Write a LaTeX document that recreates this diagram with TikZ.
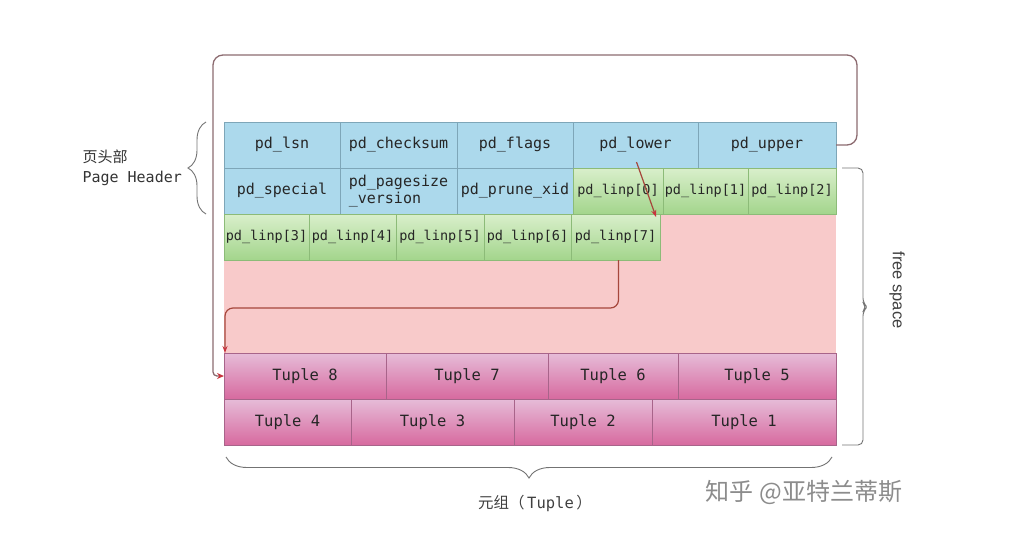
\documentclass[tikz,border=0pt]{standalone}
\usepackage{fontspec}
\setmonofont{DejaVu Sans Mono}
\setsansfont{Liberation Sans}
\newfontfamily\cjk{Noto Sans CJK SC}
\usepackage{tikz}
\usetikzlibrary{positioning,arrows.meta,decorations.pathreplacing,calc}
\definecolor{hdrblue}{HTML}{ACD9EC}
\definecolor{hdrline}{HTML}{7EA6B8}
\definecolor{linptop}{HTML}{D9EFCB}
\definecolor{linpbot}{HTML}{A3D58C}
\definecolor{linpline}{HTML}{8CBB78}
\definecolor{tuptop}{HTML}{E6BCD8}
\definecolor{tupbot}{HTML}{D76A9F}
\definecolor{tupline}{HTML}{A8648A}
\definecolor{freepink}{HTML}{F8CACA}
\definecolor{bracketc}{HTML}{8C6B70}
\definecolor{arrowred}{HTML}{C8343E}
\definecolor{ptrred}{HTML}{A6473C}
\tikzset{
  basic/.style   = {draw, rectangle, outer sep=0pt, inner xsep=1pt, inner ysep=0pt,
                    minimum height=46pt, text=black!85,
                    font=\ttfamily\fontsize{15}{17}\selectfont},
  hdr/.style     = {basic, fill=hdrblue, draw=hdrline},
  linp/.style    = {basic, draw=linpline, top color=linptop, bottom color=linpbot,
                    font=\ttfamily\fontsize{13.5}{16}\selectfont},
  tuple/.style   = {basic, draw=tupline, top color=tuptop, bottom color=tupbot,
                    font=\ttfamily\fontsize{15.5}{17}\selectfont},
  freebox/.style = {rectangle, fill=freepink, outer sep=0pt, inner sep=0pt},
  hbrace/.style  = {decorate, draw=black!55, line width=0.9pt},
  bracket/.style = {draw=bracketc, line width=1.3pt,
                    -{Stealth[length=7pt, width=6pt, color=arrowred]}},
  ptr/.style     = {draw=ptrred, line width=1.2pt,
                    -{Stealth[length=7pt, width=5pt, color=arrowred]}},
  hdrlabel/.style = {align=left, text=black!80, font=\ttfamily\fontsize{15}{20}\selectfont},
  fslabel/.style  = {text=black!75, font=\sffamily\fontsize{16.5}{18}\selectfont},
  tuplabel/.style = {text=black!75, font=\cjk\fontsize{15.5}{18}\selectfont},
  zhihu/.style    = {text=black!45, font=\cjk\fontsize{24}{26}\selectfont}
}

\begin{document}
\begin{tikzpicture}[x=1pt, y=-1pt]
\useasboundingbox (0,0) rectangle (1009,538);

% free space behind the line pointers
\node[freebox, anchor=north west, minimum width=612pt, minimum height=139pt] (free) at (224,214) {};

% page header, first row
\node[hdr, anchor=west, minimum width=116pt] (lsn) at (224,145) {pd\_lsn};
\node[hdr, right=0pt of lsn, minimum width=117pt] (checksum) {pd\_checksum};
\node[hdr, right=0pt of checksum, minimum width=116pt] (flags) {pd\_flags};
\node[hdr, right=0pt of flags, minimum width=125pt] (lower) {pd\_lower};
\node[hdr, right=0pt of lower, minimum width=138pt] (upper) {pd\_upper};

% page header, second row, then the first line pointers
\node[hdr, anchor=north west, minimum width=116pt] (special) at (lsn.south west) {pd\_special};
\node[hdr, right=0pt of special, minimum width=117pt, align=left] (version) {pd\_pagesize\\\_version};
\node[hdr, right=0pt of version, minimum width=116pt] (prune) {pd\_prune\_xid};
\node[linp, right=0pt of prune, minimum width=90pt] (l0) {pd\_linp[0]};
\node[linp, right=0pt of l0, minimum width=85pt] (l1) {pd\_linp[1]};
\node[linp, right=0pt of l1, minimum width=88pt] (l2) {pd\_linp[2]};

% third row of line pointers
\node[linp, anchor=north west, minimum width=85pt] (l3) at (special.south west) {pd\_linp[3]};
\foreach \i/\w in {4/87,5/88,6/87,7/89} {
  \pgfmathtruncatemacro\prev{\i-1}
  \node[linp, right=0pt of l\prev, minimum width=\w pt] (l\i) {pd\_linp[\i]};
}

% tuples, filled from the end of the page
\node[tuple, anchor=north west, minimum width=162pt] (t8) at (free.south west) {Tuple 8};
\foreach \i/\w in {7/162,6/130,5/158} {
  \pgfmathtruncatemacro\prev{\i+1}
  \node[tuple, right=0pt of t\prev, minimum width=\w pt] (t\i) {Tuple \i};
}
\node[tuple, anchor=north west, minimum width=127pt] (t4) at (t8.south west) {Tuple 4};
\foreach \i/\w in {3/163,2/138,1/184} {
  \pgfmathtruncatemacro\prev{\i+1}
  \node[tuple, right=0pt of t\prev, minimum width=\w pt] (t\i) {Tuple \i};
}

% pointers
\coordinate (topR) at (857,55);
\coordinate (topL) at (213,55);
\draw[bracket, rounded corners=10pt] (upper.east) -| (topR) -- (topL) [rounded corners=4pt] |- (t8.west);
\draw[ptr] ([xshift=1pt,yshift=6pt]lower.south) -- ([xshift=-4pt,yshift=-3pt]l7.north east);
\coordinate (turn) at (420,308);
\draw[ptr, rounded corners=8pt] ([xshift=3pt]l7.south) |- (turn) -| ([xshift=1pt]t8.north west);

% braces and their labels
\draw[hbrace, decoration={brace, amplitude=18pt}]
  ([xshift=-18pt]special.south west) -- ([xshift=-18pt]lsn.north west);
\node[hdrlabel, anchor=west] (hdrtext) at (79,168) {{\cjk 页头部}\\Page Header};

\coordinate (fstip) at (867,307);
\draw[hbrace, rounded corners=5pt] ([xshift=6pt]l2.north east) -- ++(21,0)
  -- ($(fstip)+(-4,-4)$) -- (fstip) -- ($(fstip)+(-4,4)$) |- ([xshift=6pt]t1.south east);
\node[fslabel, rotate=-90] (fstext) at (897,290) {free space};

\draw[hbrace, decoration={brace, amplitude=21pt}]
  ([xshift=-4pt,yshift=-12pt]t1.south east) -- ([xshift=2pt,yshift=-12pt]t4.south west);
\node[tuplabel] (tuptext) at (535,503) {元组（\,{\ttfamily Tuple}\,）};

\node[zhihu] (zh) at (804,492) {知乎 @亚特兰蒂斯};
\end{tikzpicture}
\end{document}
